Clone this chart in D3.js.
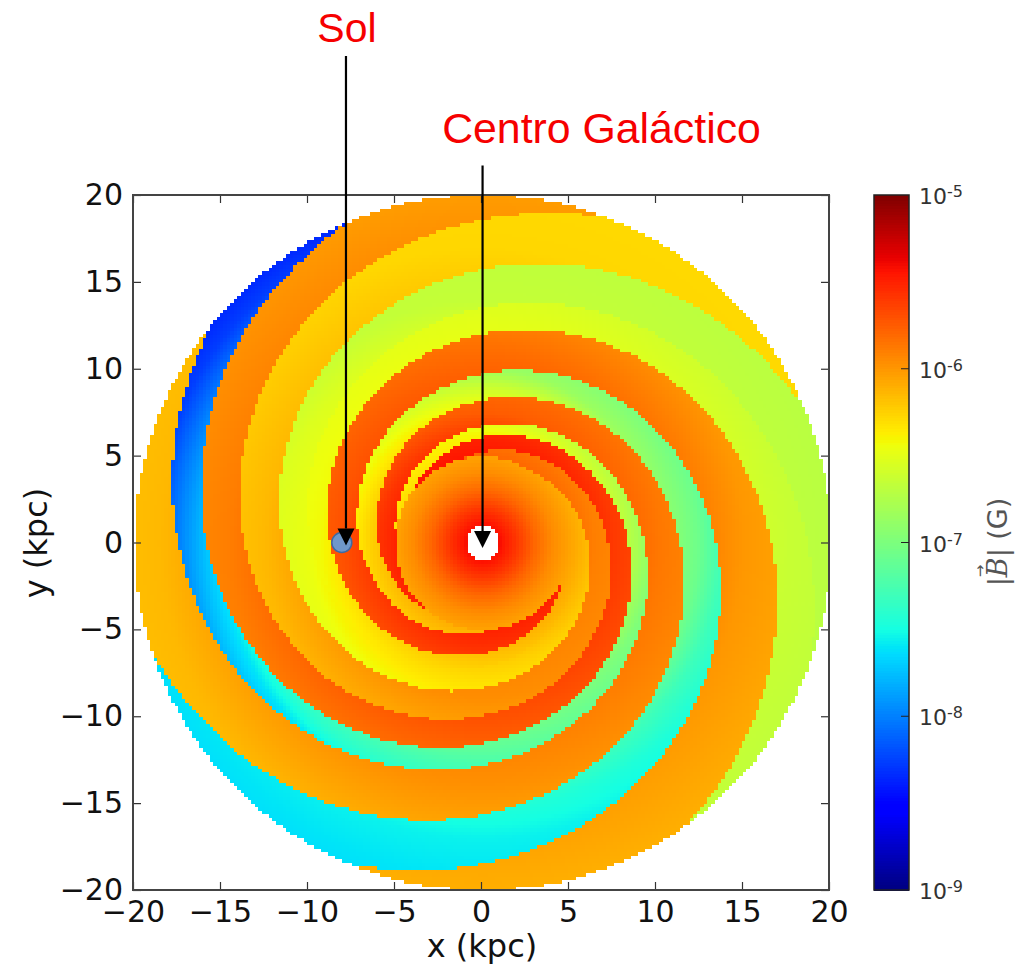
<!DOCTYPE html>
<html><head><meta charset="utf-8">
<script src="https://cdnjs.cloudflare.com/ajax/libs/d3/7.8.5/d3.min.js"></script>
<style>html,body{margin:0;background:#fff}svg{display:block}text{font-family:"DejaVu Sans",sans-serif}</style>
</head><body><svg id="c" width="1023" height="964"></svg>
<script>
// Spiral boundaries: radius (kpc) every 30 degrees, from the first angle given
const curveStart = [-420,-360,-330,-270,-240,-180,-150,-90];
const curve0 = [23.1,20.77,18.67,16.78,15.08,13.55,12.18,10.96,9.85,8.86,7.96,7.14,6.44,5.79,5.2,4.67];
const curve1 = [21.72,19.52,17.55,15.77,14.18,12.75,11.46,10.3,9.26,8.33,7.48,6.73,6.05,5.44,4.89,4.39];
const curve2 = [23.0,20.7,18.6,16.85,15.19,13.68,12.3,11.05,9.94,8.93,8.03,7.22,6.49,5.84,5.24,4.71];
const curve3 = [21.7,19.5,17.6,15.88,14.27,12.83,11.54,10.37,9.32,8.38,7.53,6.77,6.08,5.47,4.92,4.42];
const curve4 = [21.6,19.4,17.5,15.8,14.2,12.78,11.48,10.32,9.28,8.34,7.5,6.74,6.06,5.45,4.9,4.4];
const curve5 = [21.3,19.2,17.35,15.63,14.04,12.62,11.35,10.2,9.17,8.24,7.41,6.66,5.99,5.39,4.84,4.35];
const curve6 = [22.82,20.52,18.45,16.58,14.9,13.4,12.05,10.83,9.73,8.75,7.87,7.08,6.36,5.72,5.14,4.62];
const curve7 = [22.7,20.4,18.4,16.6,14.9,13.4,12.05,10.84,9.75,8.76,7.88,7.08,6.37,5.73,5.15,4.62];
const curves = [curve0,curve1,curve2,curve3,curve4,curve5,curve6,curve7];

// log10|B| read along each arm and the inner disc, as radius / value pairs
const armR0 = [5,7,8.3,10,12,14,20],            armB0 = [-6.05,-6.24,-6.33,-6.46,-6.53,-6.65,-6.70];
const armR1 = [5,6.5,9,12.5,17,20],             armB1 = [-5.8,-5.9,-5.96,-6.14,-6.27,-6.28];
const armR2 = [5,6,7.5,10.5,14.5,20],           armB2 = [-5.45,-5.5,-5.6,-5.72,-5.89,-6.02];
const armR3 = [5,6.4,7.2,8.8,10,12,14,15,16,17.5,19,20], armB3 = [-6.3,-6.42,-6.55,-6.77,-6.98,-7.16,-7.4,-7.6,-7.75,-8,-8.26,-8.34];
const armR4 = [5,6,7.5,10.3,14,18.5,20],        armB4 = [-5.5,-5.58,-5.75,-5.87,-5.97,-6.14,-6.16];
const armR5 = [5,6.5,8,9,10,12.4,13.8,15.3,17,20], armB5 = [-6.1,-6.25,-6.45,-6.62,-6.85,-7.07,-7.3,-7.45,-7.55,-7.62];
const armR6 = [5,5.8,8,11,15,20],               armB6 = [-5.5,-5.55,-5.7,-5.82,-6.0,-6.1];
const armR7 = [5,6.7,9.3,12.8,17.6,20],         armB7 = [-6.05,-6.2,-6.42,-6.5,-6.63,-6.66];
const discR = [1,2,3,4,5],                      discB = [-5.42,-5.6,-5.8,-5.95,-6.05];
const armR = [armR0,armR1,armR2,armR3,armR4,armR5,armR6,armR7];
const armB = [armB0,armB1,armB2,armB3,armB4,armB5,armB6,armB7];

const axisTicks = [-20,-15,-10,-5,0,5,10,15,20];
const barExponents = [-5,-6,-7,-8,-9];
const jetStops = [0,0.11,0.125,0.34,0.35,0.375,0.64,0.65,0.66,0.89,0.91,1];
const jetRed   = [0,0,0,0,0,0.0806,0.9355,0.9677,1,1,0.9107,0.5];
const jetGreen = [0,0,0,0.86,0.9,1,1,0.963,0.926,0.0741,0,0];
const jetBlue  = [0.5,1,1,1,0.968,0.887,0.0484,0,0,0,0,0];
const sol = {x:-8, y:0};
const arrows = [{label:"Sol", x:-7.76, from:28, to:-0.17},{label:"Centro Galáctico", x:0.09, from:21.7, to:-0.32}];

const x = d3.scaleLinear().domain([-20,20]).range([133,829]);
const y = d3.scaleLinear().domain([-20,20]).range([890,195]);
const logScale = d3.scaleLog().domain([1e-9,1e-5]).range([0,1]);
const barY = d3.scaleLog().domain([1e-9,1e-5]).range([890,195]);
const cr = d3.scaleLinear().domain(jetStops).range(jetRed);
const cg = d3.scaleLinear().domain(jetStops).range(jetGreen);
const cb = d3.scaleLinear().domain(jetStops).range(jetBlue);
const jet = v => `rgb(${Math.round(255*cr(v))},${Math.round(255*cg(v))},${Math.round(255*cb(v))})`;
const armScales = armR.map((r,i)=>d3.scaleLinear().domain(r).range(armB[i]).clamp(true));
const discScale = d3.scaleLinear().domain(discR).range(discB).clamp(true);

function curveAt(k,a){
  const list = curves[k], p = (a-curveStart[k])/30;
  if(p<0) return Infinity;
  if(p>list.length-1) return 0;
  const i = Math.min(Math.floor(p),list.length-2), f = p-i;
  return Math.exp(Math.log(list[i])*(1-f)+Math.log(list[i+1])*f);
}
function logB(px,py){
  const r = Math.hypot(px,py);
  if(r<1||r>20) return null;
  if(r<5) return discScale(r);
  let a = Math.atan2(py,px)*180/Math.PI; if(a<0) a+=360;
  for(const aw of [a,a-360,a-720]){
    for(let k=0;k<8;k++){
      const lo = curveAt(k,aw);
      const hi = k<7 ? curveAt(k+1,aw) : curveAt(0,aw-360);
      if(r>=lo && r<hi) return armScales[k](r);
    }
  }
  return discScale(5);
}
const cellSize = 0.2;
const cells = [];
d3.range(200).forEach(i=>d3.range(200).forEach(j=>{
  const cx = -20+cellSize*i, cy = -20+cellSize*j;
  const v = logB(cx, cy+cellSize/2);
  if(v!==null) cells.push({cx,cy,v});
}));

const svg = d3.select("#c");
svg.append("g").attr("shape-rendering","crispEdges").selectAll("rect").data(cells).join("rect")
  .attr("x",d=>x(d.cx)).attr("y",d=>y(d.cy+cellSize))
  .attr("width",x(cellSize)-x(0)+0.6).attr("height",y(0)-y(cellSize)+0.6)
  .attr("fill",d=>jet(logScale(Math.pow(10,d.v))));

// axes
const tickLen = 8;
const styleAxis = g=>{g.select(".domain").remove();
  g.selectAll("line").attr("stroke","#333").attr("stroke-width",1.2);
  g.selectAll("text").attr("fill","#111").attr("font-size",30);};
svg.append("g").attr("transform",`translate(0,${y(-20)})`)
  .call(d3.axisBottom(x).tickValues(axisTicks).tickSizeInner(-tickLen).tickSizeOuter(0).tickPadding(11)).call(styleAxis);
svg.append("g").attr("transform",`translate(${x(-20)},0)`)
  .call(d3.axisLeft(y).tickValues(axisTicks).tickSizeInner(-tickLen).tickSizeOuter(0).tickPadding(10)).call(styleAxis);
svg.append("g").attr("transform",`translate(0,${y(20)})`)
  .call(d3.axisTop(x).tickValues(axisTicks).tickSizeInner(-tickLen).tickSizeOuter(0).tickFormat("")).call(styleAxis);
svg.append("g").attr("transform",`translate(${x(20)},0)`)
  .call(d3.axisRight(y).tickValues(axisTicks).tickSizeInner(-tickLen).tickSizeOuter(0).tickFormat("")).call(styleAxis);
svg.append("rect").attr("x",x(-20)).attr("y",y(20)).attr("width",x(20)-x(-20)).attr("height",y(-20)-y(20))
  .attr("fill","none").attr("stroke","#444").attr("stroke-width",2);

svg.append("text").attr("x",482).attr("y",957).attr("text-anchor","middle").attr("font-size",32).attr("fill","#111").text("x (kpc)");
svg.append("text").attr("transform","translate(47,543) rotate(-90)").attr("text-anchor","middle").attr("font-size",32).attr("fill","#111").text("y (kpc)");

// Sol marker and arrows
svg.append("circle").attr("cx",x(sol.x)).attr("cy",y(sol.y)).attr("r",10).attr("fill","#6f97c9").attr("stroke","#3d6aa3").attr("stroke-width",1.5);
const headLen = 17, headW = 8.5;
const arrowG = svg.append("g").selectAll("g").data(arrows).join("g");
arrowG.append("line").attr("x1",d=>x(d.x)).attr("x2",d=>x(d.x)).attr("y1",d=>y(d.from)).attr("y2",d=>y(d.to)-headLen)
  .attr("stroke","#000").attr("stroke-width",2.2);
arrowG.append("path").attr("fill","#000")
  .attr("d",d=>d3.line()([[x(d.x)-headW,y(d.to)-headLen],[x(d.x)+headW,y(d.to)-headLen],[x(d.x),y(d.to)]])+"Z");

svg.append("text").attr("x",347).attr("y",42).attr("text-anchor","middle").attr("font-size",41)
  .style("font-family","'Liberation Sans'").attr("fill","#f60000").text(arrows[0].label);
svg.append("text").attr("x",601.5).attr("y",143).attr("text-anchor","middle").attr("font-size",42.8)
  .style("font-family","'Liberation Sans'").attr("fill","#f60000").text(arrows[1].label);

// colour bar
const barSteps = d3.range(256);
const barLevel = d3.scaleLinear().domain([0,256]).range([0,1]);
svg.append("g").attr("shape-rendering","crispEdges").selectAll("rect").data(barSteps).join("rect")
  .attr("x",874).attr("width",35)
  .attr("y",d=>barY.range()[1]+(barY.range()[0]-barY.range()[1])*(1-barLevel(d+1)))
  .attr("height",(barY.range()[0]-barY.range()[1])/256+0.6)
  .attr("fill",d=>jet(barLevel(d+0.5)));
svg.append("rect").attr("x",874).attr("y",195).attr("width",35).attr("height",695).attr("fill","none").attr("stroke","#222").attr("stroke-width",1.5);
const barTicks = svg.append("g").selectAll("g").data(barExponents).join("g");
barTicks.filter(d=>d>-9&&d<-5).append("line").attr("x1",901).attr("x2",909).attr("y1",d=>barY(Math.pow(10,d))).attr("y2",d=>barY(Math.pow(10,d))).attr("stroke","#222");
const barText = barTicks.append("text").attr("x",919).attr("y",d=>barY(Math.pow(10,d))+9).attr("font-size",22).attr("fill","#333");
barText.append("tspan").text("10");
barText.append("tspan").attr("dy",-7).attr("font-size",16).text(d=>String(d));

const bLabel = svg.append("text").attr("transform","translate(1007,542) rotate(-90)").attr("text-anchor","middle").attr("font-size",27).attr("fill","#555");
bLabel.append("tspan").text("|");
bLabel.append("tspan").style("font-family","'DejaVu Serif'").attr("font-style","italic").text("B");
bLabel.append("tspan").text("| (G)");
svg.append("text").attr("transform","translate(985,571) rotate(-90)").attr("text-anchor","middle").attr("font-size",15).attr("fill","#555").text("→");
</script></body></html>
